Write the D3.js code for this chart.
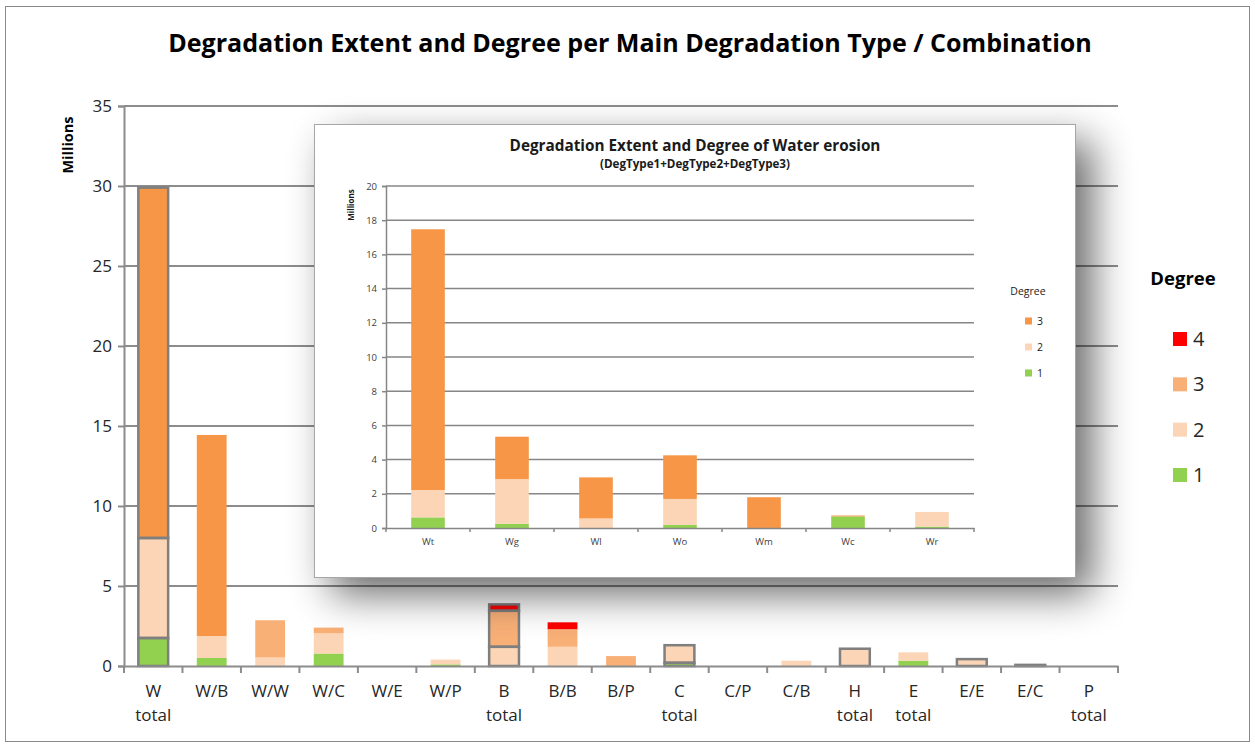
<!DOCTYPE html>
<html>
<head>
<meta charset="utf-8">
<script src="https://cdn.jsdelivr.net/npm/d3@7/dist/d3.min.js"></script>
<style>
  body { margin: 0; background: #fff; }
  svg { display: block; font-family: "Open Sans", "DejaVu Sans", sans-serif; }
</style>
</head>
<body>
<svg id="chart" width="1255" height="747"></svg>
<script>
// ---- Main chart: degraded area (millions) per degree, by degradation type / combination
const categories = ["W\ntotal", "W/B", "W/W", "W/C", "W/E", "W/P", "B\ntotal", "B/B", "B/P",
                    "C\ntotal", "C/P", "C/B", "H\ntotal", "E\ntotal", "E/E", "E/C", "P\ntotal"];
const degree1 = [1.75, 0.5, 0,    0.78, 0, 0.1, 0,    0,    0,    0.2,  0, 0,    0,    0.33, 0,    0,    0];
const degree2 = [6.25, 1.37, 0.53, 1.26, 0, 0.3, 1.2,  1.2,  0,    1.1,  0, 0.33, 1.08, 0.52, 0.43, 0.07, 0];
const degree3 = [21.9, 12.57, 2.33, 0.36, 0, 0,  2.25, 1.1,  0.62, 0,    0, 0,    0,    0,    0,    0,    0];
const degree4 = [0,    0,    0,    0,    0, 0,   0.4,  0.43, 0,    0,    0, 0,    0,    0,    0,    0,    0];
const yTicks = [0, 5, 10, 15, 20, 25, 30, 35];
const degreeKeys = ["1", "2", "3", "4"];

// ---- Inset: water erosion subtypes (DegType1+DegType2+DegType3)
const waterTypes = ["Wt", "Wg", "Wl", "Wo", "Wm", "Wc", "Wr"];
const water1 = [0.62, 0.25, 0,    0.18, 0,   0.68, 0.08];
const water2 = [1.6,  2.61, 0.56, 1.52, 0,   0,    0.86];
const water3 = [15.25, 2.48, 2.4, 2.55, 1.8, 0.05, 0];
const waterTicks = [0, 2, 4, 6, 8, 10, 12, 14, 16, 18, 20];
const waterKeys = ["1", "2", "3"];

// ---- Styles
const fill = { "1": "#92D050", "2": "#FBD5B5", "3": "#F9B077", "4": "#FF0000" };
const strongOrange = "#F79646";
const strongOrangeCats = new Set(["W\ntotal", "W/B"]);
const outlinedCats = new Set(["W\ntotal", "B\ntotal", "C\ntotal", "H\ntotal", "E/E", "E/C"]);
const gridColor = "#8c8c8c";
const textColor = "#262626";

const svg = d3.select("#chart");

// shrink/grow a text element's font size so its rendered width hits a target
function fitWidth(sel, target) {
  const node = sel.node();
  const fs = parseFloat(sel.attr("font-size"));
  const w = node.getComputedTextLength();
  if (w > 0) sel.attr("font-size", (fs * target / w).toFixed(2));
}

// outer frame
svg.append("rect")
  .attr("x", 5.5).attr("y", 6.5).attr("width", 1244).attr("height", 735)
  .attr("fill", "#fff").attr("stroke", "#8a8a8a").attr("stroke-width", 1);

// title
const title = svg.append("text")
  .attr("x", 630).attr("y", 52).attr("text-anchor", "middle")
  .attr("font-size", 22).attr("font-weight", "bold").attr("fill", "#000")
  .text("Degradation Extent and Degree per Main Degradation Type / Combination");
fitWidth(title, 924);

// ---- main scales
const x = d3.scaleBand().domain(categories).range([124, 1118]).paddingInner(0.49).paddingOuter(0.245);
const y = d3.scaleLinear().domain([0, 35]).range([666, 106]);

// gridlines
svg.append("g").selectAll("line").data(yTicks.filter(d => d > 0)).join("line")
  .attr("x1", 124).attr("x2", 1118)
  .attr("y1", d => y(d)).attr("y2", d => y(d))
  .attr("stroke", gridColor).attr("stroke-width", 2);

// stacked bars
const mainRows = categories.map((c, i) => ({ cat: c, "1": degree1[i], "2": degree2[i], "3": degree3[i], "4": degree4[i] }));
const mainStack = d3.stack().keys(degreeKeys)(mainRows);
const barG = svg.append("g");
mainStack.forEach(layer => {
  barG.selectAll(null).data(layer.filter(d => d[1] - d[0] > 0)).join("rect")
    .attr("x", d => x(d.data.cat))
    .attr("width", x.bandwidth())
    .attr("y", d => y(d[1]))
    .attr("height", d => y(d[0]) - y(d[1]))
    .attr("fill", d => (layer.key === "3" && strongOrangeCats.has(d.data.cat)) ? strongOrange : fill[layer.key]);
});
// grey outlines around every segment of the outlined bars
mainStack.forEach(layer => {
  barG.selectAll(null).data(layer.filter(d => d[1] - d[0] > 0 && outlinedCats.has(d.data.cat))).join("rect")
    .attr("x", d => x(d.data.cat))
    .attr("width", x.bandwidth())
    .attr("y", d => y(d[1]))
    .attr("height", d => y(d[0]) - y(d[1]))
    .attr("fill", "none").attr("stroke", "#7f7f7f").attr("stroke-width", 2.5);
});

// y axis
const yAxis = svg.append("g").attr("transform", "translate(124,0)")
  .call(d3.axisLeft(y).tickValues(yTicks).tickSize(6).tickPadding(6));
yAxis.select(".domain").attr("stroke", gridColor).attr("stroke-width", 2);
yAxis.selectAll(".tick line").attr("stroke", gridColor).attr("stroke-width", 2);
yAxis.selectAll(".tick text").attr("font-size", 17).attr("fill", textColor)
  .attr("font-family", "'Open Sans', sans-serif");

// x axis: line, boundary ticks and two-line labels
const xAxis = svg.append("g").attr("transform", "translate(0,666)")
  .call(d3.axisBottom(x).tickSize(0).tickFormat(""));
xAxis.select(".domain").attr("stroke", gridColor).attr("stroke-width", 2);
const bounds = d3.range(categories.length + 1).map(i => 124 + i * x.step());
svg.append("g").selectAll("line").data(bounds).join("line")
  .attr("x1", d => d).attr("x2", d => d).attr("y1", 666).attr("y2", 673)
  .attr("stroke", gridColor).attr("stroke-width", 2);
const xl = svg.append("g").selectAll("text").data(categories).join("text")
  .attr("text-anchor", "middle").attr("font-size", 17).attr("fill", textColor)
  .attr("transform", d => `translate(${x(d) + x.bandwidth() / 2},697)`);
xl.each(function (d) {
  d.split("\n").forEach((part, k) => {
    d3.select(this).append("tspan").attr("x", 0).attr("dy", k === 0 ? 0 : 24).text(part);
  });
});

// y axis title
svg.append("text")
  .attr("transform", "translate(73,145) rotate(-90)")
  .attr("text-anchor", "middle").attr("font-size", 14.5).attr("font-weight", "bold").attr("fill", "#000")
  .text("Millions");

// main legend
svg.append("text").attr("x", 1183).attr("y", 285).attr("text-anchor", "middle")
  .attr("font-size", 18.5).attr("font-weight", "bold").attr("fill", "#000").text("Degree");
const legendY = d3.scalePoint().domain(["4", "3", "2", "1"]).range([339, 475]);
const lg = svg.append("g").selectAll("g").data(["4", "3", "2", "1"]).join("g")
  .attr("transform", d => `translate(1173,${legendY(d)})`);
lg.append("rect").attr("x", 0).attr("y", -7).attr("width", 14).attr("height", 14).attr("fill", d => fill[d]);
lg.append("text").attr("x", 20).attr("y", 7).attr("font-size", 20).attr("fill", textColor).text(d => d);

// ---- inset panel with drop shadow
const defs = svg.append("defs");
defs.append("filter").attr("id", "soft").attr("x", "-20%").attr("y", "-20%").attr("width", "140%").attr("height", "140%")
  .append("feGaussianBlur").attr("stdDeviation", 21);
const box = { x: 314, y: 124, w: 761, h: 453 };
svg.append("rect")
  .attr("x", box.x + 17).attr("y", box.y + 17).attr("width", box.w).attr("height", box.h)
  .attr("fill", "#000").attr("opacity", 0.6).attr("filter", "url(#soft)");
svg.append("rect")
  .attr("x", box.x + 0.5).attr("y", box.y + 0.5).attr("width", box.w).attr("height", box.h)
  .attr("fill", "#fff").attr("stroke", "#a6a6a6").attr("stroke-width", 1);

const it = svg.append("text").attr("x", 695).attr("y", 151).attr("text-anchor", "middle")
  .attr("font-size", 13).attr("font-weight", "bold").attr("fill", "#1a1a1a")
  .text("Degradation Extent and Degree of Water erosion");
fitWidth(it, 371);
const st = svg.append("text").attr("x", 695).attr("y", 167.5).attr("text-anchor", "middle")
  .attr("font-size", 9).attr("font-weight", "bold").attr("fill", "#1a1a1a")
  .text("(DegType1+DegType2+DegType3)");
fitWidth(st, 190);

const wx = d3.scaleBand().domain(waterTypes).range([386, 974]).paddingInner(0.6).paddingOuter(0.3);
const wy = d3.scaleLinear().domain([0, 20]).range([528, 186]);

svg.append("g").selectAll("line").data(waterTicks.filter(d => d > 0)).join("line")
  .attr("x1", 386).attr("x2", 974).attr("y1", d => wy(d)).attr("y2", d => wy(d))
  .attr("stroke", "#868686").attr("stroke-width", 1.5);

const waterRows = waterTypes.map((c, i) => ({ cat: c, "1": water1[i], "2": water2[i], "3": water3[i] }));
const waterStack = d3.stack().keys(waterKeys)(waterRows);
const wFill = { "1": "#92D050", "2": "#FBD5B5", "3": strongOrange };
waterStack.forEach(layer => {
  svg.append("g").selectAll("rect").data(layer.filter(d => d[1] - d[0] > 0)).join("rect")
    .attr("x", d => wx(d.data.cat)).attr("width", wx.bandwidth())
    .attr("y", d => wy(d[1])).attr("height", d => wy(d[0]) - wy(d[1]))
    .attr("fill", wFill[layer.key]);
});

const wyAxis = svg.append("g").attr("transform", "translate(386,0)")
  .call(d3.axisLeft(wy).tickValues(waterTicks).tickSize(4).tickPadding(5));
wyAxis.select(".domain").attr("stroke", "#868686").attr("stroke-width", 1.5);
wyAxis.selectAll(".tick line").attr("stroke", "#868686").attr("stroke-width", 1.5);
wyAxis.selectAll(".tick text").attr("font-size", 9.5).attr("fill", "#404040")
  .attr("font-family", "'Open Sans', sans-serif");

const wxAxis = svg.append("g").attr("transform", "translate(0,528)")
  .call(d3.axisBottom(wx).tickSize(0).tickPadding(10));
wxAxis.select(".domain").attr("stroke", "#868686").attr("stroke-width", 1.5);
wxAxis.selectAll(".tick text").attr("font-size", 9.5).attr("fill", "#404040")
  .attr("font-family", "'Open Sans', sans-serif");
const wb = d3.range(waterTypes.length + 1).map(i => 386 + i * wx.step());
svg.append("g").selectAll("line").data(wb).join("line")
  .attr("x1", d => d).attr("x2", d => d).attr("y1", 528).attr("y2", 532)
  .attr("stroke", "#868686").attr("stroke-width", 1.5);

svg.append("text").attr("transform", "translate(354,205) rotate(-90)")
  .attr("text-anchor", "middle").attr("font-size", 8).attr("font-weight", "bold").attr("fill", "#1a1a1a")
  .text("Millions");

// inset legend
svg.append("text").attr("x", 1028).attr("y", 295).attr("text-anchor", "middle")
  .attr("font-size", 10.5).attr("fill", "#1a1a1a").text("Degree");
const wLegY = d3.scalePoint().domain(["3", "2", "1"]).range([321, 373]);
const wl = svg.append("g").selectAll("g").data(["3", "2", "1"]).join("g")
  .attr("transform", d => `translate(1025,${wLegY(d)})`);
wl.append("rect").attr("x", 0).attr("y", -3.5).attr("width", 7).attr("height", 7).attr("fill", d => wFill[d]);
wl.append("text").attr("x", 12).attr("y", 4).attr("font-size", 10.5).attr("fill", "#1a1a1a").text(d => d);
</script>
</body>
</html>
